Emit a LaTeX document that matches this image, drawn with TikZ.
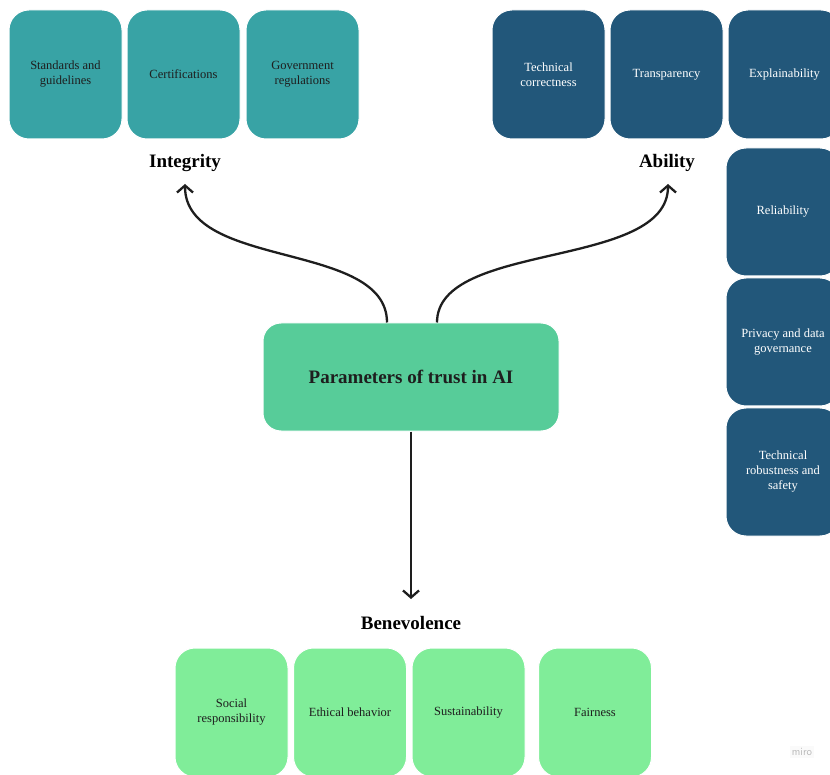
\documentclass[tikz,border=0pt]{standalone}
\usepackage{fontspec}
\setmainfont{Liberation Serif}
\usetikzlibrary{arrows.meta,calc}
\definecolor{integc}{HTML}{38A3A5}
\definecolor{abilc}{HTML}{22577A}
\definecolor{centc}{HTML}{57CC99}
\definecolor{benec}{HTML}{80ED99}
\definecolor{inkc}{HTML}{1E1E1E}
\begin{document}
\begin{tikzpicture}[x=1pt,y=-1pt,
  card/.style={rectangle, rounded corners=20pt, minimum width=113pt, minimum height=129pt,
    draw=white, line width=1pt, align=center, inner sep=2pt,
    font=\fontsize{12.5}{15}\selectfont},
  integcard/.style={card, fill=integc, text=inkc},
  abilcard/.style={card, fill=abilc, text=white},
  benecard/.style={card, fill=benec, text=inkc},
  tallcard/.style={abilcard, minimum width=114pt, minimum height=128pt},
  grouplabel/.style={anchor=base, font=\bfseries\fontsize{19}{22}\selectfont, text=black},
  arr/.style={draw=inkc, line width=2.3pt, -{Straight Barb[length=7pt,width=16pt,line width=2.3pt]}}
]
\useasboundingbox (0,0) rectangle (830,775);
\fill[white] (0,0) rectangle (830,775);

% Integrity
\node[integcard] (std)  at (65.5,74.5)  {Standards and\\guidelines};
\node[integcard] (cert) at (183.5,74.5) {Certifications};
\node[integcard] (gov)  at (302.5,74.5) {Government\\regulations};
\node[grouplabel] (integrity) at (185,168) {Integrity};

% Ability
\node[abilcard] (tech)  at (548.5,74.5) {Technical\\correctness};
\node[abilcard] (trans) at (666.5,74.5) {Transparency};
\node[abilcard] (expl)  at (784.5,74.5) {Explainability};
\node[grouplabel] (ability) at (667,168) {Ability};

\node[tallcard] (rel)  at (783,212) {Reliability};
\node[tallcard] (priv) at (783,342) {Privacy and data\\governance};
\node[tallcard] (rob)  at (783,472) {Technical\\robustness and\\safety};

% Center
\node[rectangle, rounded corners=18pt, minimum width=296pt, minimum height=108pt,
      fill=centc, draw=white, line width=1pt,
      font=\bfseries\fontsize{19}{22}\selectfont, text=inkc] (center) at (411,377)
      {Parameters of trust in AI};

% Benevolence
\node[grouplabel] (benevolence) at (411,629) {Benevolence};
\node[benecard] (soc)  at (231.5,712.5) {Social\\responsibility};
\node[benecard] (eth)  at (350,712.5)   {Ethical behavior};
\node[benecard] (sus)  at (468.5,712.5) {Sustainability};
\node[benecard] (fair) at (595,712.5)   {Fairness};

% Connectors
\coordinate (itip) at (185,184);
\coordinate (atip) at (668,184);
\coordinate (btip) at (411,599);
\draw[arr] ($(center.north)+(-24,0)$) .. controls +(0,-82) and +(0,86) .. (itip);
\draw[arr] ($(center.north)+(26,0)$) .. controls +(0,-82) and +(0,86) .. (atip);
\draw[arr] (center.south) -- (btip);

% watermark
\node[font=\sffamily\fontsize{11}{11}\selectfont, text=black!28, fill=black!2, inner sep=2pt] (miro) at (802,752) {miro};
\end{tikzpicture}
\end{document}
